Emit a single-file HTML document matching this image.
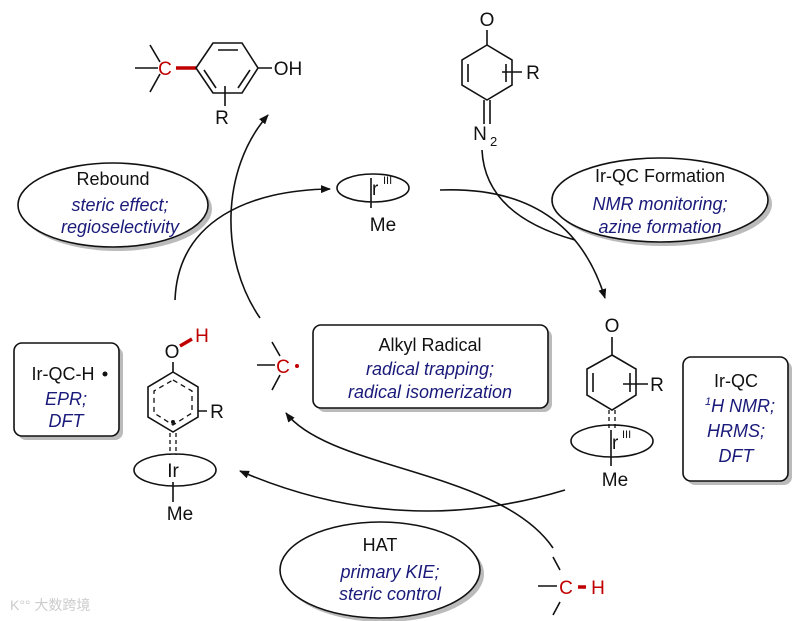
<!DOCTYPE html>
<html><head><meta charset="utf-8"><style>
html,body{margin:0;padding:0;background:#fff;}
svg{display:block;font-family:"Liberation Sans",Arial,sans-serif;}
.t{font-size:19px;fill:#111;text-anchor:middle;}
.i{font-size:18px;fill:#1a1a7a;font-style:italic;text-anchor:middle;}
.l{stroke:#111;stroke-width:1.6;fill:none;}
.w{stroke:#111;stroke-width:1.6;fill:#fff;}
.s{fill:#bbb;stroke:none;}
</style></head><body>
<svg width="800" height="621" viewBox="0 0 800 621">
<defs>
<marker id="a" markerWidth="10" markerHeight="8" refX="9" refY="4" orient="auto" markerUnits="userSpaceOnUse"><path d="M0,0 L10,4 L0,8 z" fill="#111"/></marker>
</defs>
<!-- top product -->
<path class="l" d="M150,45 L160,62 M135,68 L158,68 M150,92 L160,74"/>
<text x="165" y="75" class="t" style="fill:#c00000">C</text>
<line x1="176" y1="68" x2="196" y2="68" stroke="#c00000" stroke-width="3.5"/>
<path class="l" d="M196,68 L213,43 L242,43 L258,68 L242,93 L213,93 Z M218,50 L238,50 M204,70 L216,88 M250,70 L238,88 M258,68 L272,68 M225,86 L225,106"/>
<text x="288" y="75" class="t">OH</text>
<text x="222" y="124" class="t">R</text>
<!-- top diazo -->
<text x="487" y="26" class="t">O</text>
<path class="l" d="M487,30 L487,45 M487,45 L512,60 L512,85 L487,100 L462,85 L462,60 Z M468,64 L468,82 M506,64 L506,82 M502,72 L522,72 M484,100 L484,124 M490,100 L490,124"/>
<text x="533" y="79" class="t">R</text>
<text x="480" y="140" class="t">N</text><text x="490" y="146" style="font-size:13px;fill:#111">2</text>
<!-- Ir top -->
<ellipse cx="373" cy="188" rx="36" ry="14" class="l"/>
<path class="l" d="M371,178 L371,208"/>
<text x="372" y="195" style="font-size:19px;fill:#111">r</text><text x="383" y="184" style="font-size:11px;fill:#111">III</text>
<text x="383" y="231" class="t">Me</text>
<!-- ellipses with shadow -->
<ellipse cx="117" cy="209" rx="95" ry="42" class="s"/>
<ellipse cx="113" cy="205" rx="95" ry="42" class="w"/>
<text x="113" y="185" class="t" style="font-size:18px">Rebound</text>
<text x="120" y="211" class="i">steric effect;</text>
<text x="120" y="233" class="i">regioselectivity</text>
<ellipse cx="664" cy="204" rx="108" ry="42" class="s"/>
<ellipse cx="660" cy="200" rx="108" ry="42" class="w"/>
<text x="660" y="182" class="t" style="font-size:18px">Ir-QC Formation</text>
<text x="660" y="210" class="i">NMR monitoring;</text>
<text x="660" y="233" class="i">azine formation</text>
<ellipse cx="384" cy="574" rx="100" ry="48" class="s"/>
<ellipse cx="380" cy="570" rx="100" ry="48" class="w"/>
<text x="380" y="551" class="t" style="font-size:18px">HAT</text>
<text x="390" y="578" class="i">primary KIE;</text>
<text x="390" y="600" class="i">steric control</text>
<!-- boxes -->
<rect x="317" y="329" width="235" height="83" rx="8" class="s"/>
<rect x="313" y="325" width="235" height="83" rx="8" class="w"/>
<text x="430" y="351" class="t" style="font-size:18px">Alkyl Radical</text>
<text x="430" y="375" class="i">radical trapping;</text>
<text x="430" y="398" class="i">radical isomerization</text>
<rect x="18" y="347" width="105" height="93" rx="8" class="s"/>
<rect x="14" y="343" width="105" height="93" rx="8" class="w"/>
<text x="63" y="380" class="t" style="font-size:18px">Ir-QC-H</text><circle cx="105" cy="374" r="2.5" fill="#111"/>
<text x="66" y="405" class="i">EPR;</text>
<text x="66" y="427" class="i">DFT</text>
<rect x="687" y="361" width="105" height="124" rx="8" class="s"/>
<rect x="683" y="357" width="105" height="124" rx="8" class="w"/>
<text x="736" y="387" class="t" style="font-size:18px">Ir-QC</text>
<text x="740" y="412" class="i"><tspan style="font-size:11px" dy="-7">1</tspan><tspan dy="7">H NMR;</tspan></text>
<text x="736" y="437" class="i">HRMS;</text>
<text x="736" y="462" class="i">DFT</text>
<!-- left complex -->
<text x="172" y="358" class="t">O</text>
<line x1="180" y1="346" x2="192" y2="339" stroke="#c00000" stroke-width="3.5"/>
<text x="202" y="342" class="t" style="fill:#c00000">H</text>
<path class="l" d="M173,362 L173,372 M173,372 L198,387 L198,417 L173,432 L148,417 L148,387 Z M198,411 L207,411"/>
<path d="M173,380 L192,391 L192,413 L173,425 L154,413 L154,391 Z" fill="none" stroke="#111" stroke-width="1.3" stroke-dasharray="5,4"/>
<circle cx="173" cy="422" r="2" fill="#111"/>
<text x="217" y="418" class="t">R</text>
<path d="M170,433 L170,455 M176,433 L176,455" stroke="#111" stroke-width="1.3" stroke-dasharray="4,3"/>
<ellipse cx="175" cy="470" rx="41" ry="16" class="l"/>
<text x="173" y="477" class="t">Ir</text>
<path class="l" d="M173,482 L173,502"/>
<text x="180" y="520" class="t">Me</text>
<!-- right complex -->
<text x="612" y="332" class="t">O</text>
<path class="l" d="M612,337 L612,355 M612,355 L636,369 L636,395 L612,410 L587,395 L587,369 Z M593,373 L593,392 M630,373 L630,392 M623,384 L648,384"/>
<text x="657" y="391" class="t">R</text>
<path d="M609,410 L609,430 M615,410 L615,430" stroke="#111" stroke-width="1.3" stroke-dasharray="4,3"/>
<ellipse cx="612" cy="441" rx="41" ry="16" class="l"/>
<path class="l" d="M611,430 L611,466"/>
<text x="612" y="449" style="font-size:19px;fill:#111">r</text><text x="622" y="438" style="font-size:11px;fill:#111">III</text>
<text x="615" y="486" class="t">Me</text>
<!-- alkyl radical -->
<path class="l" d="M272,342 L280,356 M257,365 L275,365 M272,390 L280,375"/>
<text x="283" y="373" class="t" style="fill:#c00000">C</text><circle cx="297" cy="366" r="2" fill="#c00000"/>
<!-- C-H -->
<path class="l" d="M553,557 L560,570 M538,586 L557,586 M553,615 L560,602"/>
<text x="566" y="594" class="t" style="fill:#c00000">C</text>
<line x1="578" y1="587" x2="586" y2="587" stroke="#c00000" stroke-width="3.5"/>
<text x="598" y="594" class="t" style="fill:#c00000">H</text>
<!-- arrows -->
<path class="l" d="M440,190 Q570,185 605,298" marker-end="url(#a)"/>
<path class="l" d="M482,150 Q485,215 575,240"/>
<path class="l" d="M175,300 C178,220 250,190 330,189" marker-end="url(#a)"/>
<path class="l" d="M260,318 C220,260 220,170 268,115" marker-end="url(#a)"/>
<path class="l" d="M565,490 Q400,540 240,471" marker-end="url(#a)"/>
<path class="l" d="M553,548 C500,470 330,470 286,413" marker-end="url(#a)"/>
<text x="10" y="610" style="font-size:14px;fill:#ccc;font-family:'Liberation Sans','Noto Sans CJK SC',sans-serif">K°° 大数跨境</text>
</svg>
</body></html>
